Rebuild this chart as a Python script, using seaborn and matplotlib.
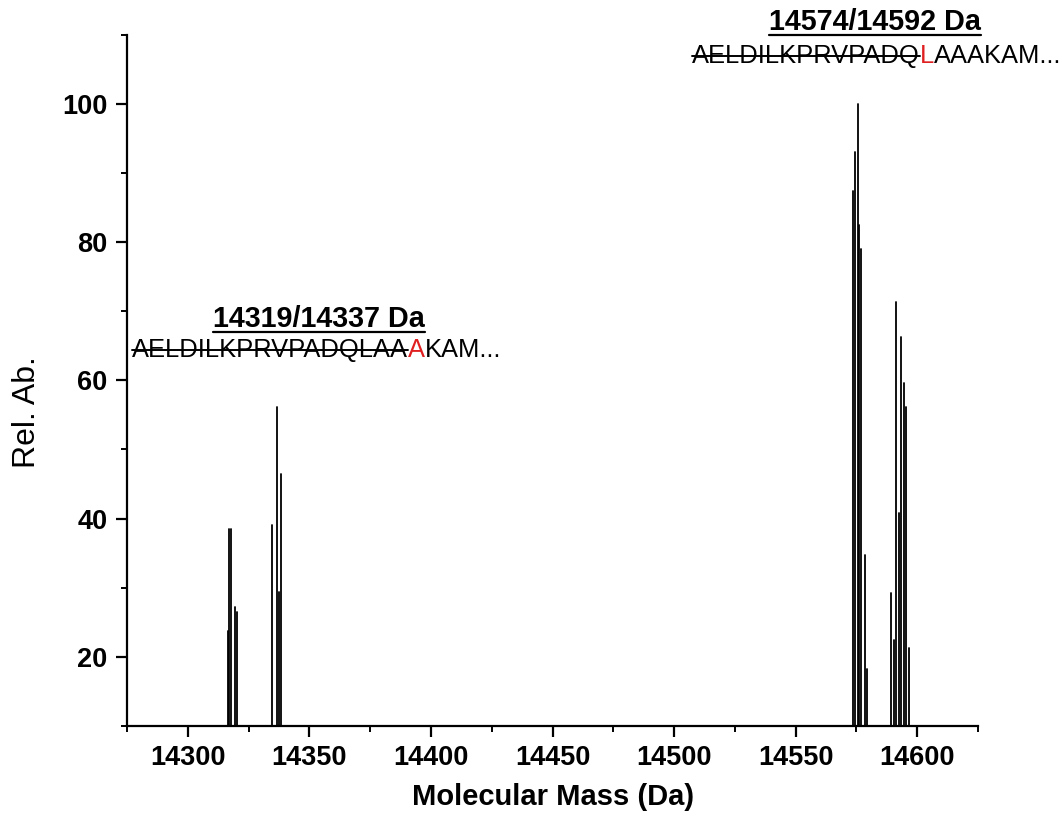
import numpy as np
import pandas as pd
import seaborn as sns
import matplotlib.pyplot as plt
from matplotlib.lines import Line2D
from matplotlib.ticker import MultipleLocator

# deconvoluted peaks
mass = [14316.5, 14317.05, 14317.9, 14319.4, 14320.1,
        14334.7, 14336.5, 14337.7, 14338.3,
        14573.5, 14574.4, 14575.6, 14576.0, 14576.9, 14578.7, 14579.2,
        14589.4, 14590.6, 14591.4, 14592.4, 14593.5, 14594.5, 14595.5, 14596.6]
rel_ab = [23.8, 38.5, 38.5, 27.2, 26.5,
          39.1, 56.1, 29.4, 46.5,
          87.4, 93.0, 100.0, 82.5, 79.0, 34.8, 18.3,
          29.3, 22.5, 71.3, 40.8, 66.3, 59.6, 56.1, 21.3]

left_title = '14319/14337 Da'
left_seq = ['AELDILKPRVPADQLAA', 'A', 'KAM...']
right_title = '14574/14592 Da'
right_seq = ['AELDILKPRVPADQ', 'L', 'AAAKAM...']

xticks = [14300, 14350, 14400, 14450, 14500, 14550, 14600]
yticks = [20, 40, 60, 80, 100]

# stick spectrum: each peak is a 2-point line from 0 up to its height
rows = []
for i, (m, a) in enumerate(zip(mass, rel_ab)):
    rows.append({'peak': i, 'mass': m, 'abund': 0.0})
    rows.append({'peak': i, 'mass': m, 'abund': a})
df = pd.DataFrame(rows)

sns.set_style('ticks')
plt.rcParams['font.family'] = ['Liberation Sans', 'DejaVu Sans']
plt.rcParams['font.weight'] = 'bold'
plt.rcParams['text.color'] = 'black'
plt.rcParams['axes.edgecolor'] = 'black'

W, H = 1062, 833
fig = plt.figure(figsize=(W / 100, H / 100), dpi=100)
ax = fig.add_axes([127 / W, 1 - 726 / H, (978 - 127) / W, (726 - 34.5) / H])

sns.lineplot(data=df, x='mass', y='abund', units='peak', estimator=None,
             color='black', lw=1.3, ax=ax, legend=False)

ax.set_xlim(14275, 14625)
ax.set_ylim(10, 110)
ax.set_xticks(xticks)
ax.set_yticks(yticks)
ax.xaxis.set_minor_locator(MultipleLocator(25))
ax.yaxis.set_minor_locator(MultipleLocator(10))
ax.set_xlabel('')
ax.set_ylabel('')
for s in ['top', 'right']:
    ax.spines[s].set_visible(False)
for s in ['left', 'bottom']:
    ax.spines[s].set_linewidth(1.6)
    ax.spines[s].set_color('black')
ax.tick_params(which='major', direction='out', length=8, width=1.6,
               labelsize=19.5, pad=6, colors='black')
ax.tick_params(which='minor', direction='out', length=4.5, width=1.4, colors='black')

fig.text(553 / W, 1 - 797 / H, 'Molecular Mass (Da)', ha='center', va='center',
         fontsize=21, weight='bold')
fig.text(27 / W, 1 - 412 / H, 'Rel. Ab.', rotation=90, ha='center', va='center',
         fontsize=23, weight='normal')

fig.canvas.draw()
renderer = fig.canvas.get_renderer()


def title_underlined(x, y, s):
    t = fig.text(x / W, 1 - y / H, s, ha='left', va='baseline', fontsize=20.7, weight='bold')
    bb = t.get_window_extent(renderer)
    fig.add_artist(Line2D([bb.x0 / W, bb.x1 / W], [1 - (y + 5) / H] * 2,
                          color='black', lw=1.6))


def struck_seq(x, y, parts):
    styles = [('black', True), ('#e02020', False), ('black', False)]
    for text, (col, strike) in zip(parts, styles):
        t = fig.text(x / W, 1 - y / H, text, ha='left', va='baseline', color=col,
                     fontsize=18.4, weight='normal')
        bb = t.get_window_extent(renderer)
        if strike:
            fig.add_artist(Line2D([bb.x0 / W, bb.x1 / W], [1 - (y - 7) / H] * 2,
                                  color='black', lw=1.4))
        x = bb.x1


title_underlined(213, 327, left_title)
struck_seq(132, 357, left_seq)
title_underlined(769, 30, right_title)
struck_seq(692, 63, right_seq)

fig.savefig('out.png', dpi=100)
